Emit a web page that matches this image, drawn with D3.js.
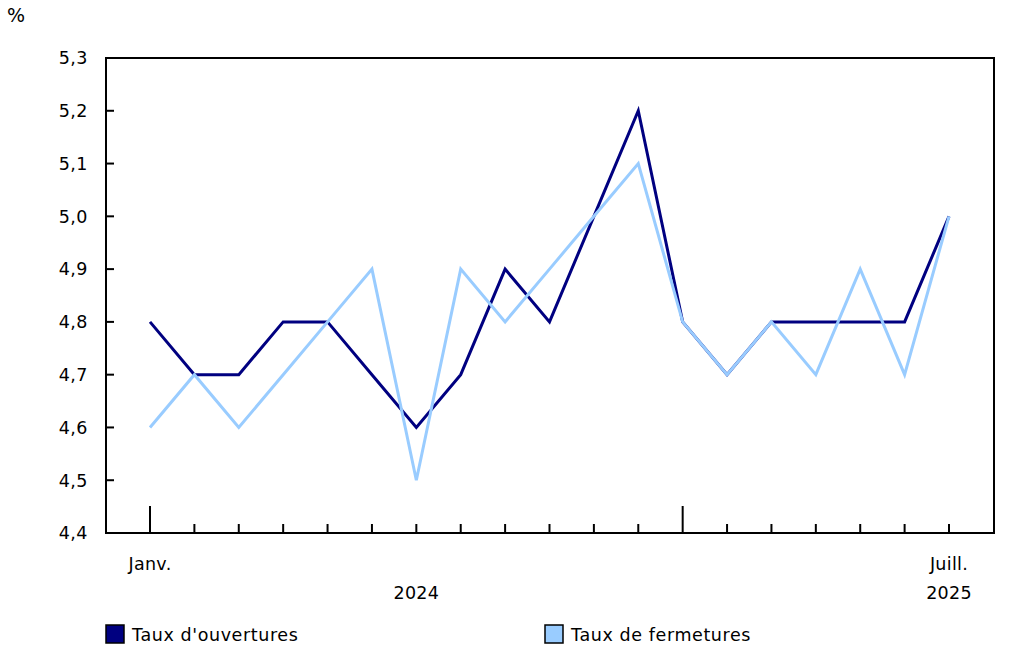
<!DOCTYPE html>
<html><head><meta charset="utf-8">
<script src="https://cdn.jsdelivr.net/npm/d3@7"></script>
<style>body{margin:0;background:#fff}svg{display:block}text{font-family:"DejaVu Sans",Verdana,sans-serif;fill:#000}</style>
</head><body><svg id="c" width="1033" height="652"></svg>
<script>
const months = ["2024-01","2024-02","2024-03","2024-04","2024-05","2024-06","2024-07","2024-08","2024-09","2024-10","2024-11","2024-12","2025-01","2025-02","2025-03","2025-04","2025-05","2025-06","2025-07"];
const ouvertures = [4.8,4.7,4.7,4.8,4.8,4.7,4.6,4.7,4.9,4.8,5.0,5.2,4.8,4.7,4.8,4.8,4.8,4.8,5.0];
const fermetures = [4.6,4.7,4.6,4.7,4.8,4.9,4.5,4.9,4.8,4.9,5.0,5.1,4.8,4.7,4.8,4.7,4.9,4.7,5.0];
const yTicks = [4.4,4.5,4.6,4.7,4.8,4.9,5.0,5.1,5.2,5.3];
const seriesNames = ["Taux d'ouvertures","Taux de fermetures"];
const colors = ["#000080","#99ccff"];

const svg = d3.select("#c");
const L=106,R=994,T=58,B=533;
const FS=17.5;
const x = d3.scalePoint().domain(months).range([150,949]);
const y = d3.scaleLinear().domain([4.4,5.3]).range([B,T]);
const fmt = d => d.toFixed(1).replace(".",",");

// frame
svg.append("rect").attr("x",L).attr("y",T).attr("width",R-L).attr("height",B-T)
  .attr("fill","none").attr("stroke","#000").attr("stroke-width",2);

// y ticks
yTicks.forEach(v=>{
  svg.append("line").attr("x1",L).attr("x2",L+8).attr("y1",y(v)).attr("y2",y(v)).attr("stroke","#000").attr("stroke-width",2);
  svg.append("text").attr("x",88).attr("y",y(v)).attr("dy","0.36em").attr("text-anchor","end").attr("font-size",FS).attr("letter-spacing",0.5).text(fmt(v));
});
svg.append("text").attr("x",7).attr("y",22).attr("font-size",19).text("%");

// x ticks
months.forEach(m=>{
  const jan = m.endsWith("-01");
  svg.append("line").attr("x1",x(m)).attr("x2",x(m)).attr("y1",B).attr("y2",jan?506:524).attr("stroke","#000").attr("stroke-width",2);
});
const lab=(t,xx,yy)=>svg.append("text").attr("x",xx).attr("y",yy).attr("text-anchor","middle").attr("font-size",FS).attr("letter-spacing",0.3).text(t);
lab("Janv.",x("2024-01"),570);
lab("Juill.",x("2025-07"),570);
lab("2024",x("2024-07"),599);
lab("2025",x("2025-07"),599);

// lines
const line = d3.line().x((d,i)=>x(months[i])).y(d=>y(d));
[ouvertures,fermetures].forEach((s,k)=>{
  svg.append("path").datum(s).attr("d",line).attr("fill","none")
    .attr("stroke",colors[k]).attr("stroke-width",3).attr("stroke-linejoin","miter");
});

// legend
[[106,0],[545,1]].forEach(([lx,k])=>{
  svg.append("rect").attr("x",lx).attr("y",625).attr("width",18).attr("height",18).attr("fill",colors[k]).attr("stroke","#000").attr("stroke-width",1.5);
  svg.append("text").attr("x",lx+26).attr("y",641).attr("font-size",FS).attr("letter-spacing",0.6).text(seriesNames[k]);
});
</script></body></html>
